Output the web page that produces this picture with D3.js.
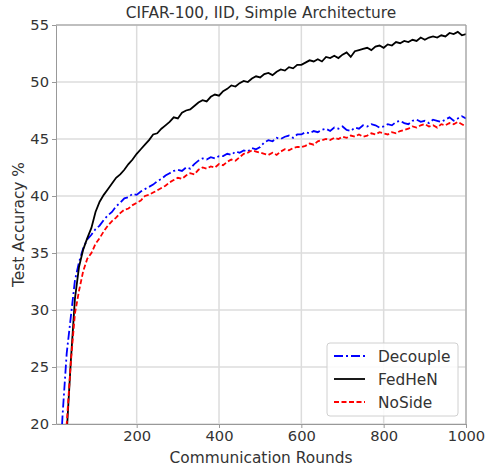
<!DOCTYPE html>
<html>
<head>
<meta charset="utf-8">
<script src="https://cdn.jsdelivr.net/npm/d3@7"></script>
<style>
  body { margin: 0; background: #fff; }
  text { font-family: "DejaVu Sans", sans-serif; fill: #333; }
  .grid line { stroke: #dcdcdc; stroke-width: 1.5; }
  .axis path, .axis line { stroke: #999; }
  .axis text { font-size: 14.7px; fill: #333; font-family: "DejaVu Sans", sans-serif; }
</style>
</head>
<body>
<div id="chart"></div>
<script>
// rounds sampled every 10
var rounds = d3.range(10, 1001, 10);

var fedhen = [10, 14, 19.2, 25.5, 31, 33.8, 35.3, 36.3, 37.2, 38.6,
  39.5, 40.1, 40.6, 41.1, 41.6, 41.9, 42.3, 42.8, 43.2, 43.7,
  44.1, 44.5, 44.9, 45.4, 45.5, 45.9, 46.2, 46.5, 46.9, 46.8,
  47.3, 47.5, 47.6, 47.9, 48.2, 48.4, 48.3, 48.7, 48.9, 48.8,
  49.2, 49.4, 49.7, 49.6, 49.9, 50.1, 50.0, 50.3, 50.5, 50.4,
  50.7, 50.8, 50.6, 50.9, 51.1, 51.0, 51.3, 51.2, 51.5, 51.5,
  51.7, 51.9, 51.8, 52.0, 51.8, 52.2, 52.1, 52.3, 52.1, 52.4,
  52.6, 52.2, 52.7, 52.8, 52.9, 53.0, 52.8, 53.1, 53.2, 53.0,
  53.3, 53.2, 53.5, 53.4, 53.6, 53.5, 53.7, 53.6, 53.9, 53.7,
  53.9, 54.0, 53.9, 54.1, 54.0, 54.3, 54.2, 54.4, 54.1, 54.2];

var decouple = [14, 20.8, 26.2, 29.4, 32.6, 34.2, 35.4, 36.2, 36.6, 37.1,
  37.4, 37.9, 38.3, 38.6, 39.1, 39.4, 39.8, 39.9, 40.2, 40.1,
  40.4, 40.6, 40.8, 41.0, 41.3, 41.5, 41.8, 42.0, 42.2, 42.3,
  42.2, 42.5, 42.4, 42.8, 43.1, 43.3, 43.2, 43.4, 43.3, 43.5,
  43.5, 43.7, 43.6, 43.9, 43.8, 44.0, 43.9, 44.2, 44.1, 44.3,
  44.7, 44.9, 44.8, 45.1, 45.0, 45.2, 45.3, 45.1, 45.4, 45.4,
  45.6, 45.5, 45.7, 45.6, 45.8, 45.9, 45.7, 46.0, 45.9, 46.1,
  45.8, 45.7, 46.0, 45.9, 46.2, 46.1, 46.3, 46.2, 46.0, 46.1,
  46.3, 46.2, 46.5, 46.6, 46.4, 46.3, 46.6, 46.7, 46.5, 46.6,
  46.4, 46.7, 46.6, 46.5, 46.7, 46.9, 46.6, 46.8, 47.0, 46.8];

var noside = [10, 15, 20, 25.4, 29.7, 31.7, 33.4, 34.5, 35.0, 35.8,
  36.3, 36.9, 37.4, 37.8, 38.1, 38.5, 38.8, 38.9, 39.2, 39.4,
  39.6, 40.0, 40.1, 40.3, 40.5, 40.7, 40.9, 41.2, 41.4, 41.6,
  41.5, 41.8, 42.0, 41.9, 42.3, 42.5, 42.4, 42.6, 42.5, 42.8,
  42.7, 43.0, 43.2, 43.1, 43.4, 43.7, 43.8, 44.0, 43.9, 43.8,
  43.7, 43.6, 43.8, 43.6, 43.9, 44.1, 44.0, 44.2, 44.3, 44.3,
  44.4, 44.6, 44.5, 44.8, 44.9, 45.0, 44.9, 45.1, 45.0, 45.2,
  45.1, 45.3, 45.2, 45.4, 45.2, 45.3, 45.5, 45.4, 45.6, 45.5,
  45.4, 45.6, 45.5, 45.7, 45.8, 45.9, 46.1, 46.0, 46.2, 46.3,
  46.1, 46.2, 46.0, 46.3, 46.2, 46.4, 46.3, 46.5, 46.3, 46.1];

var xTicks = [200, 400, 600, 800, 1000];
var yTicks = [20, 25, 30, 35, 40, 45, 50, 55];

var margin = {top: 25, right: 21, bottom: 49, left: 56},
    width = 487 - margin.left - margin.right,
    height = 473 - margin.top - margin.bottom;

var svg = d3.select("#chart").append("svg")
    .attr("width", 487)
    .attr("height", 473);

var g = svg.append("g")
    .attr("transform", "translate(" + margin.left + "," + margin.top + ")");

var x = d3.scaleLinear().domain([4, 1000]).range([0, width]);
var y = d3.scaleLinear().domain([20, 55]).range([height, 0]);

// grid
g.append("g").attr("class", "grid")
  .selectAll("line.v").data(xTicks).enter().append("line")
    .attr("x1", function(d) { return x(d); }).attr("x2", function(d) { return x(d); })
    .attr("y1", 0).attr("y2", height);
g.append("g").attr("class", "grid")
  .selectAll("line.h").data(yTicks).enter().append("line")
    .attr("y1", function(d) { return y(d); }).attr("y2", function(d) { return y(d); })
    .attr("x1", 0).attr("x2", width);

svg.append("defs").append("clipPath").attr("id", "clip")
  .append("rect").attr("width", width).attr("height", height);

var line = d3.line()
    .x(function(d) { return x(d[0]); })
    .y(function(d) { return y(d[1]); });

var series = [
  {name: "Decouple", values: decouple, color: "#0000ff", dash: "9,3,2,3"},
  {name: "FedHeN", values: fedhen, color: "#000000", dash: null},
  {name: "NoSide", values: noside, color: "#ff0000", dash: "5,2.5"}
];

var plot = g.append("g").attr("clip-path", "url(#clip)");
series.forEach(function(s) {
  plot.append("path")
    .datum(rounds.map(function(r, i) { return [r, s.values[i]]; }))
    .attr("fill", "none")
    .attr("stroke", s.color)
    .attr("stroke-width", 1.8)
    .attr("stroke-dasharray", s.dash)
    .attr("d", line);
});

// axes
g.append("g").attr("class", "axis")
  .attr("transform", "translate(0," + height + ")")
  .call(d3.axisBottom(x).tickValues(xTicks).tickFormat(d3.format("d")).tickSize(4).tickSizeOuter(0));
g.append("g").attr("class", "axis")
  .call(d3.axisLeft(y).tickValues(yTicks).tickFormat(d3.format("d")).tickSize(4).tickSizeOuter(0));
g.append("line").attr("x1", 0).attr("x2", width).attr("y1", 0).attr("y2", 0).attr("stroke", "#999");
g.append("line").attr("x1", width).attr("x2", width).attr("y1", 0).attr("y2", height).attr("stroke", "#999");

// titles
svg.append("text").attr("x", margin.left + width / 2).attr("y", 18)
  .attr("text-anchor", "middle").style("font-size", "15.4px")
  .text("CIFAR-100, IID, Simple Architecture");
svg.append("text").attr("x", margin.left + width / 2).attr("y", 463)
  .attr("text-anchor", "middle").style("font-size", "15.4px")
  .text("Communication Rounds");
svg.append("text")
  .attr("transform", "translate(24," + (margin.top + height / 2) + ")rotate(-90)")
  .attr("text-anchor", "middle").style("font-size", "15.4px")
  .text("Test Accuracy %");

// legend
var leg = svg.append("g").attr("transform", "translate(327,343)");
leg.append("rect").attr("width", 131).attr("height", 73).attr("rx", 3)
  .attr("fill", "#fff").attr("fill-opacity", 0.85).attr("stroke", "#d0d0d0");
series.forEach(function(s, i) {
  var yy = 13 + i * 23;
  leg.append("line").attr("x1", 7).attr("x2", 38).attr("y1", yy).attr("y2", yy)
    .attr("stroke", s.color).attr("stroke-width", 1.8).attr("stroke-dasharray", s.dash);
  leg.append("text").attr("x", 51).attr("y", yy + 5.5).style("font-size", "15.4px").text(s.name);
});
</script>
</body>
</html>
